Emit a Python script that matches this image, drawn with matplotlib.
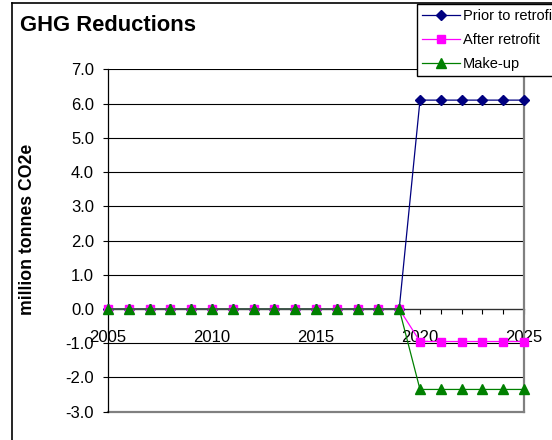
import matplotlib
matplotlib.use("Agg")
import matplotlib.pyplot as plt
from matplotlib.ticker import MultipleLocator, FormatStrFormatter
from matplotlib.lines import Line2D

plt.rcParams['font.family'] = ['Liberation Sans', 'DejaVu Sans']

# Annual GHG reductions, million tonnes CO2e
years = list(range(2005, 2026))
prior_to_retrofit = [0.0] * 15 + [6.1] * 6
after_retrofit = [0.0] * 15 + [-0.95] * 6
make_up = [0.0] * 15 + [-2.35] * 6

series_names = ["Prior to retrofit", "After retrofit", "Make-up"]
y_ticks = [-3.0, -2.0, -1.0, 0.0, 1.0, 2.0, 3.0, 4.0, 5.0, 6.0, 7.0]

W, H = 552, 440
fig = plt.figure(figsize=(W / 100, H / 100), dpi=100)
ax = fig.add_axes([108 / W, 1 - 411.7 / H, (524 - 108) / W, (411.7 - 69.3) / H])

ax.set_xlim(2005, 2025)
ax.set_ylim(-3, 7)

# horizontal gridlines
for v in y_ticks[1:]:
    ax.axhline(v, color='black', lw=0.8, zorder=1)
# plot-area border (grey) at bottom and right
ax.axhline(-3, color='#808080', lw=1.6, zorder=1, clip_on=False)
ax.spines['right'].set_color('#808080')
ax.spines['right'].set_linewidth(1.6)
ax.spines['top'].set_visible(False)
ax.spines['left'].set_color('black')
ax.spines['left'].set_linewidth(0.9)
ax.spines['bottom'].set_position(('data', 0))
ax.spines['bottom'].set_color('#303030')
ax.spines['bottom'].set_linewidth(0.9)
ax.spines['bottom'].set_zorder(2)

ax.plot(years, prior_to_retrofit, color='#000080', lw=0.9, marker='D', ms=5.6,
        label=series_names[0], clip_on=False, zorder=3)
ax.plot(years, after_retrofit, color='#FF00FF', lw=0.9, marker='s', ms=6,
        label=series_names[1], clip_on=False, zorder=4)
ax.plot(years, make_up, color='#008000', lw=0.9, marker='^', ms=7.5,
        label=series_names[2], clip_on=False, zorder=5)

ax.set_yticks(y_ticks)
ax.yaxis.set_major_formatter(FormatStrFormatter('%.1f'))
ax.xaxis.set_major_locator(MultipleLocator(5))
ax.xaxis.set_minor_locator(MultipleLocator(1))
ax.xaxis.set_major_formatter(FormatStrFormatter('%d'))
ax.tick_params(axis='y', direction='out', length=3.6, width=0.8, pad=6.5,
               labelsize=12, colors='black')
ax.tick_params(axis='x', which='both', direction='out', length=3.6, width=0.8,
               colors='black')
ax.tick_params(axis='x', which='major', pad=11.5, labelsize=12)

fig.text(20 / W, 1 - 30.7 / H, "GHG Reductions", fontsize=15.8, fontweight='bold',
         va='baseline', ha='left')
fig.text(28 / W, 1 - 229 / H, "million tonnes CO2e", fontsize=12.7, fontweight='bold',
         rotation=90, va='center', ha='center')

# outer chart frame
fig.add_artist(Line2D([11.5 / W, 11.5 / W], [0, 1 - 3 / H], color='black', lw=1.2,
                      transform=fig.transFigure))
fig.add_artist(Line2D([11.5 / W, 1], [1 - 3 / H, 1 - 3 / H], color='black', lw=1.2,
                      transform=fig.transFigure))

handles, labels = ax.get_legend_handles_labels()
leg = fig.legend(handles, labels, loc='upper left', bbox_to_anchor=(417 / W, 1 - 4.5 / H),
                 fontsize=10.5, frameon=True, fancybox=False, edgecolor='black',
                 framealpha=1, borderaxespad=0, borderpad=0.34, handlelength=2.6,
                 handletextpad=0.2, labelspacing=0.68)
leg.get_frame().set_linewidth(1.0)

fig.savefig("out.png", dpi=100)
